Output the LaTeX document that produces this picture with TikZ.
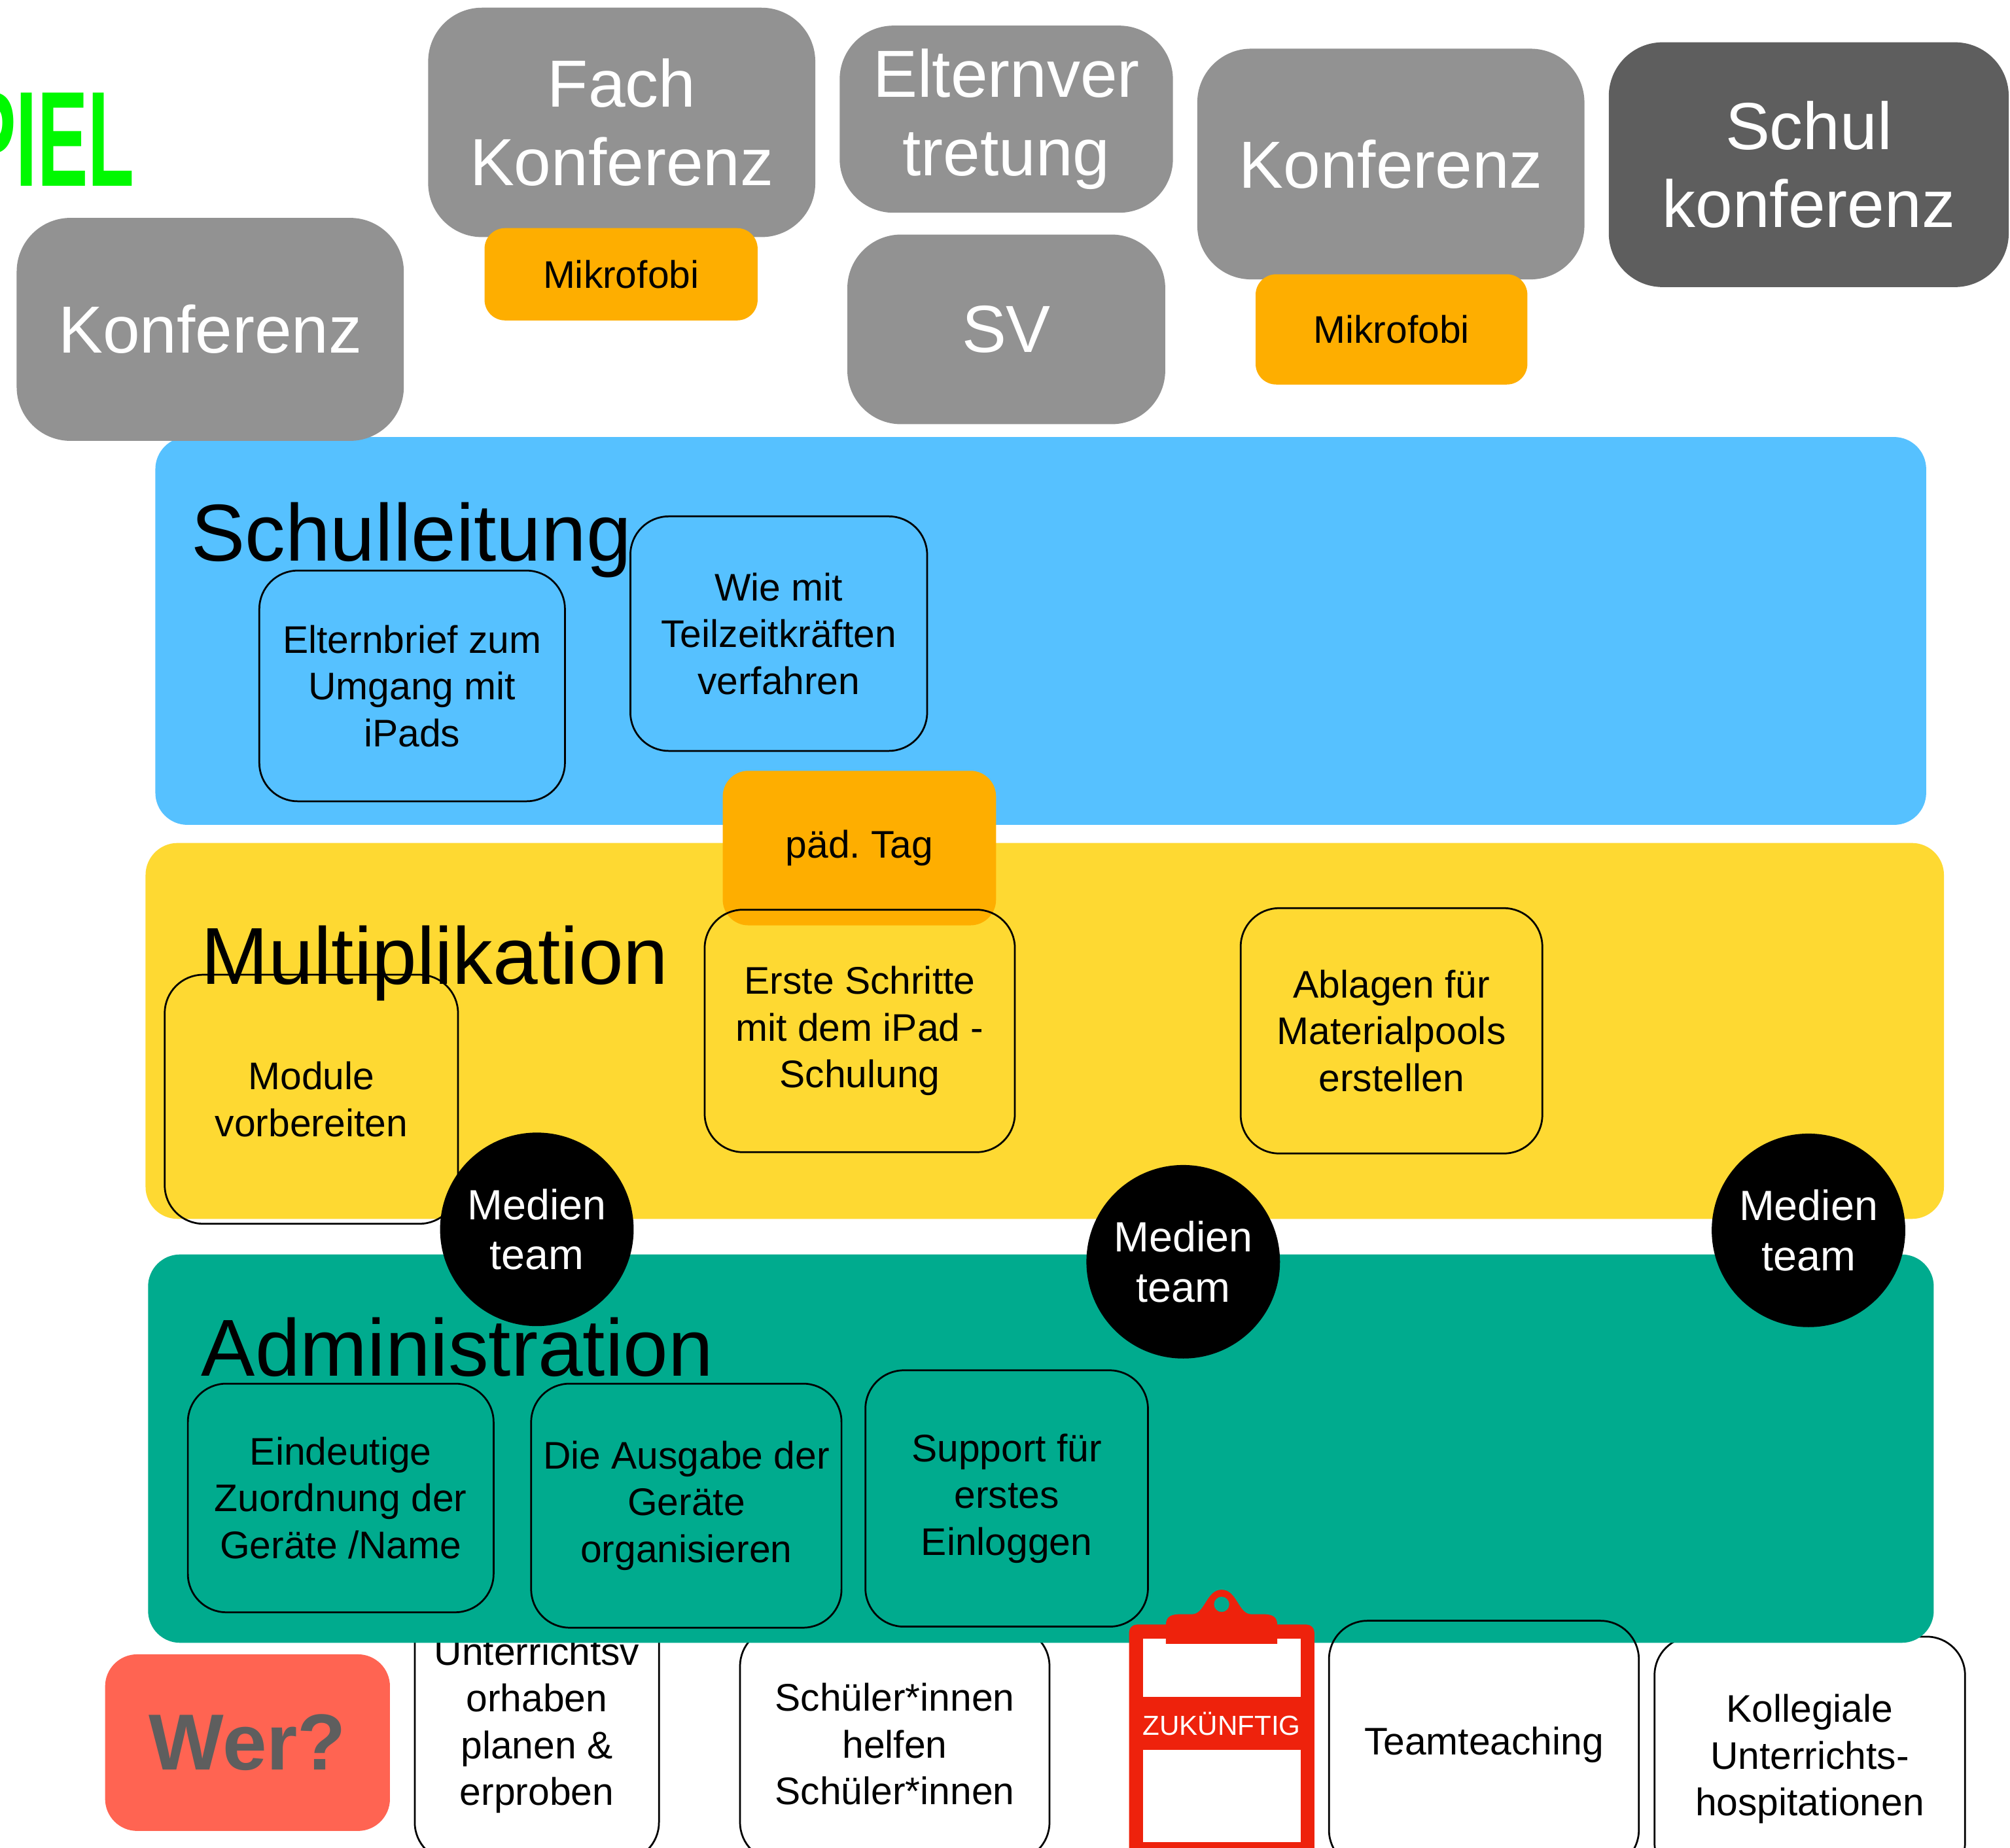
\documentclass[tikz,border=0pt]{standalone}
\usepackage{fontspec}
\setmainfont{Liberation Sans}
\frenchspacing
\definecolor{grau}{HTML}{929292}
\definecolor{dunkelgrau}{HTML}{5E5E5E}
\definecolor{mikroorange}{HTML}{FEAE00}
\definecolor{leitungblau}{HTML}{56C1FF}
\definecolor{multigelb}{HTML}{FED932}
\definecolor{admingruen}{HTML}{00AB8E}
\definecolor{werrot}{HTML}{FF6452}
\definecolor{klemmrot}{HTML}{EE220C}
\definecolor{signalgruen}{HTML}{00F900}
\begin{document}
\begin{tikzpicture}[x=1pt, y=-1pt, line join=round, line cap=round,
	gremium/.style={fill=grau, rounded corners=42pt, text=white, align=center, inner sep=0pt, outer sep=0pt, font=\fontsize{52}{61}\selectfont},
	termin/.style={fill=mikroorange, rounded corners=16pt, inner sep=0pt, outer sep=0pt, font=\fontsize{30}{36}\selectfont},
	band/.style={rounded corners=25pt, inner sep=0pt, outer sep=0pt},
	bandtitel/.style={anchor=base west, inner sep=0pt, font=\fontsize{63}{70}\selectfont},
	aufgabe/.style={draw=black, line width=1.4pt, rounded corners=30pt, align=center, inner sep=0pt, outer sep=0pt, font=\fontsize{30}{36.5}\selectfont},
	team/.style={circle, fill=black, text=white, minimum size=151pt, inner sep=0pt, align=center, font=\fontsize{33}{39}\selectfont}]
	\fill[white] (0,0) rectangle (1568,1441.5);
	\useasboundingbox (0,0) rectangle (1568,1441.5);
	\node[anchor=base east, inner sep=0pt, text=signalgruen] (spiel) at (105,145.2) {\scalebox{0.56}[1]{\fontsize{105.7}{110}\selectfont\bfseries PIEL}};
	% Aufgaben unter der Administration
	\node[aufgabe, minimum width=190.5pt, minimum height=212pt] (unterricht) at (418.8,1346) {Unterrichtsv\\orhaben\\planen \&\\erproben};
	\node[aufgabe, minimum width=241.4pt, minimum height=182pt] (schueler) at (698,1361) {Schüler*innen\\helfen\\Schüler*innen};
	\node[aufgabe, minimum width=242.2pt, minimum height=191pt] (kollegial) at (1411.8,1372.5) {Kollegiale\\Unterrichts-\\hospitationen};
	% Ebenen
	\node[band, fill=leitungblau, minimum width=1381.4pt, minimum height=302.6pt] (leitung) at (811.9,492.3) {};
	\node[band, fill=multigelb, minimum width=1402.9pt, minimum height=293.3pt] (multi) at (815,804.4) {};
	\node[band, fill=admingruen, minimum width=1393pt, minimum height=303pt] (admin) at (812,1130.3) {};
	\node[bandtitel] (leitungtitel) at (149,437.5) {Schulleitung};
	\node[bandtitel] (multititel) at (157,767.8) {Multiplikation};
	\node[bandtitel] (admintitel) at (157,1073.7) {Administration};
	% Gremien
	\node[gremium, minimum width=302pt, minimum height=174pt] (konf) at (164,257) {Konferenz};
	\node[gremium, minimum width=302pt, minimum height=179pt] (fachkonf) at (485,95.5) {Fach\\Konferenz};
	\node[gremium, minimum width=260pt, minimum height=146pt] (eltern) at (785,93) {Elternver\\tretung};
	\node[gremium, minimum width=248pt, minimum height=148pt] (sv) at (785,257) {SV};
	\node[gremium, minimum width=302pt, minimum height=180pt] (gesamtkonf) at (1085,128) {Konferenz};
	\node[gremium, fill=dunkelgrau, minimum width=312pt, minimum height=191pt] (schulkonf) at (1411,128.5) {Schul\\konferenz};
	\node[termin, minimum width=213pt, minimum height=72pt] (mikroa) at (484.5,214) {Mikrofobi};
	\node[termin, minimum width=212pt, minimum height=86pt] (mikrob) at (1085.5,257) {Mikrofobi};
	\node[termin, rounded corners=20pt, minimum width=213.2pt, minimum height=120.6pt] (paedtag) at (670.4,661.7) {päd. Tag};
	% Aufgaben
	\node[aufgabe, minimum width=238.4pt, minimum height=180pt] (elternbrief) at (321.5,535.2) {Elternbrief zum\\Umgang mit\\iPads};
	\node[aufgabe, minimum width=231.5pt, minimum height=183pt] (teilzeit) at (607.5,494.4) {Wie mit\\Teilzeitkräften\\verfahren};
	\node[aufgabe, minimum width=242pt, minimum height=189.2pt] (schritte) at (670.7,804.4) {Erste Schritte\\mit dem iPad -\\Schulung};
	\node[aufgabe, minimum width=235.3pt, minimum height=191.4pt] (ablagen) at (1085.5,804.3) {Ablagen für\\Materialpools\\erstellen};
	\node[aufgabe, minimum width=228.8pt, minimum height=194.3pt] (module) at (242.9,857.7) {Module\\vorbereiten};
	\node[aufgabe, minimum width=238.5pt, minimum height=178.4pt] (zuordnung) at (265.8,1168.8) {Eindeutige\\Zuordnung der\\Geräte /Name};
	\node[aufgabe, minimum width=242.1pt, minimum height=190.4pt] (ausgabe) at (535.4,1174.8) {Die Ausgabe der\\Geräte\\organisieren};
	\node[aufgabe, minimum width=220.4pt, minimum height=200pt] (support) at (785.3,1169.2) {Support für\\erstes\\Einloggen};
	\node[team] (teama) at (418.8,959.2) {Medien\\team};
	\node[team] (teamb) at (923,984.5) {Medien\\team};
	\node[team] (teamc) at (1410.8,960) {Medien\\team};
	\node[aufgabe, minimum width=241.7pt, minimum height=193.4pt] (teamteaching) at (1157.6,1361.3) {Teamteaching};
	\node[fill=werrot, rounded corners=25pt, inner sep=0pt, minimum width=222.2pt, minimum height=137.8pt, text=dunkelgrau, font=\fontsize{62}{66}\selectfont\bfseries] (wer) at (193.1,1359.7) {Wer?};
	% Klemmbrett
	\fill[klemmrot, rounded corners=6pt] (880.8,1267.6) rectangle (1025.3,1452);
	\fill[white] (891.5,1278.4) rectangle (1014.6,1437.5);
	\fill[klemmrot] (880.8,1324.2) rectangle (1025.3,1365.5);
	\fill[klemmrot, even odd rule] (909.5,1282.6) -- (909.5,1268) .. controls (909.5,1261) and (914,1259.5) .. (921,1259.5) -- (930,1259.5) .. controls (940,1259.5) and (941,1240.4) .. (953,1240.4) .. controls (965,1240.4) and (966,1259.5) .. (976,1259.5) -- (985,1259.5) .. controls (992,1259.5) and (996.4,1261) .. (996.4,1268) -- (996.4,1282.6) -- cycle (953,1251.8) circle (6);
	\node[text=white, inner sep=0pt, font=\fontsize{21.5}{24}\selectfont] (zukunft) at (953,1345) {ZUKÜNFTIG};
\end{tikzpicture}
\end{document}
